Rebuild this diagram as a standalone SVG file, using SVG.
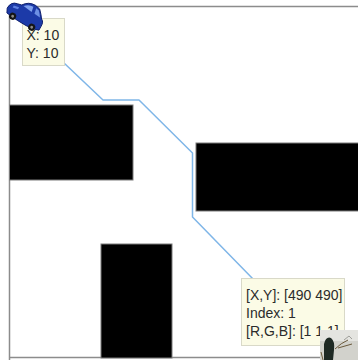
<svg xmlns="http://www.w3.org/2000/svg" width="358" height="362" viewBox="0 0 358 362">
  <style>
    .frame { fill: none; stroke: #8c8c8c; stroke-width: 1.5; }
    .block { fill: #000; stroke: #7a7a7a; stroke-width: 1; }
    .tip { fill: #fbfbe6; stroke: #d9d9c8; stroke-width: 1; }
    .label { font-family: "Liberation Sans", Arial, sans-serif; font-size: 14px; fill: #2b2b2b; stroke: none; }
    .route { fill: none; stroke: #7fb6e8; stroke-width: 1.5; stroke-linejoin: round; }
  </style>

  <rect width="358" height="362" fill="#fff"/>

  <!-- map frame -->
  <g id="frame">
    <path class="frame" d="M9.5 360 V6.5 H358 M9.5 357.5 H358"/>
  </g>

  <!-- obstacles -->
  <g id="obstacles">
    <rect class="block" x="9.5" y="105" width="123.5" height="75"/>
    <rect class="block" x="196" y="143" width="164" height="68"/>
    <rect class="block" x="101" y="244" width="71" height="114"/>
  </g>

  <!-- planned route -->
  <g id="connectors">
    <path class="route" d="M64 63 L103 100 L139 100 L192.5 153 L192.5 217 L253 279"/>
  </g>

  <!-- start tooltip -->
  <g id="start-tip">
    <rect class="tip" x="22.5" y="18.5" width="42" height="47"/>
    <text class="label" x="26.5" y="40">X: 10</text>
    <text class="label" x="26.5" y="57.5">Y: 10</text>
  </g>

  <!-- goal tooltip -->
  <g id="goal-tip">
    <rect class="tip" x="241.5" y="278.5" width="103" height="67"/>
    <text class="label" x="246" y="300">[X,Y]: [490 490]</text>
    <text class="label" x="246" y="318">Index: 1</text>
    <text class="label" x="246" y="336">[R,G,B]: [1 1 1]</text>
  </g>

  <!-- vehicle icon -->
  <g id="car" transform="translate(24.5 15.5) rotate(30) scale(1.1)">
    <path d="M-17 2 Q-17 -5 -11 -6 L-7 -7 Q-3 -13 4 -13 L9 -12 Q13 -8 15 -5 Q18 -4 18 1 L18 5 Q10 9 -15 6 Z" fill="#1c3aa8" stroke="#0e1f6b" stroke-width="0.8"/>
    <path d="M-5 -7 Q-2 -11 3 -11 L4 -6 Z" fill="#7fa1ee"/>
    <path d="M6 -11 L9 -10.5 Q11.5 -8 13 -5.5 L7 -6 Z" fill="#6d90e4"/>
    <path d="M-13 -3 L-8 -4 L-8 -2 L-13 -1 Z" fill="#5d7fe0"/>
    <ellipse cx="-9" cy="6" rx="3.2" ry="3.2" fill="#151515"/>
    <ellipse cx="11" cy="6" rx="3.2" ry="3.2" fill="#151515"/>
    <ellipse cx="-9" cy="6" rx="1.3" ry="1.3" fill="#8a8a8a"/>
    <ellipse cx="11" cy="6" rx="1.3" ry="1.3" fill="#8a8a8a"/>
  </g>

  <!-- camera thumbnail -->
  <g id="thumbnail">
    <rect x="320" y="330" width="38" height="30" fill="#d2d2cc"/>
    <rect x="320" y="330" width="38" height="11" fill="#e4e4e0"/>
    <path d="M324 360 L324 344 Q326 336 331 338 Q335 341 334 350 L333 360 Z" fill="#1f2a24"/>
    <path d="M321 352 L323 360 M335 349 Q341 343 348 340 M338 348 L352 344" stroke="#6b5a3c" stroke-width="1" fill="none"/>
    <path d="M344 340 L349 336 L352 339" stroke="#8c8c86" stroke-width="0.8" fill="none"/>
  </g>
</svg>
